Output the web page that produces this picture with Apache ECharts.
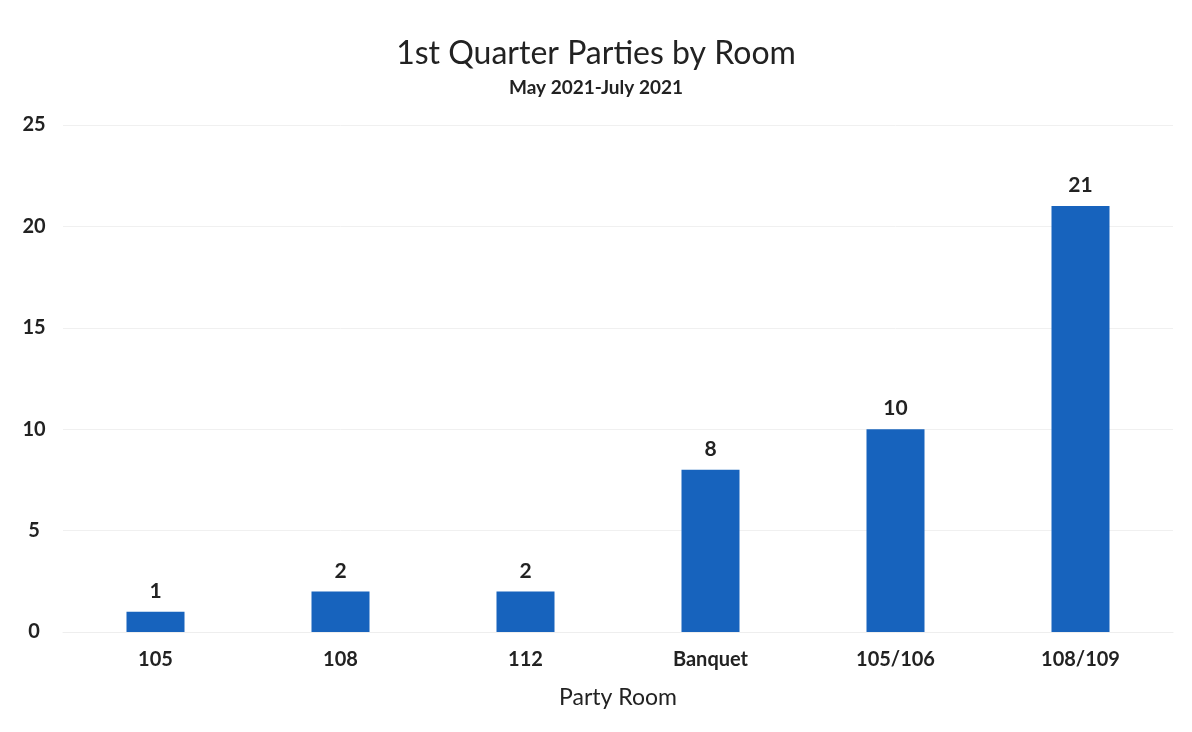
<!DOCTYPE html>
<html>
<head>
<meta charset="utf-8">
<script src="https://cdn.jsdelivr.net/npm/echarts@6/dist/echarts.min.js"></script>
<style>
  html, body { margin: 0; padding: 0; background: #fff; }
  #chart { width: 1192px; height: 732px; }
</style>
</head>
<body>
<div id="chart"></div>
<script>
// data
const rooms = ['105', '108', '112', 'Banquet', '105/106', '108/109'];
const parties = [1, 2, 2, 8, 10, 21];
const yTicks = [0, 5, 10, 15, 20, 25];

const font = 'Lato, "Open Sans", sans-serif';
const chart = echarts.init(document.getElementById('chart'));

chart.setOption({
  backgroundColor: '#fff',
  title: {
    text: '1st Quarter Parties by Room',
    subtext: 'May 2021-July 2021',
    left: 'center',
    top: 33,
    itemGap: 8,
    textStyle: { fontFamily: font, fontSize: 32, fontWeight: 'normal', color: '#222' },
    subtextStyle: { fontFamily: font, fontSize: 19, fontWeight: 'bold', color: '#222' }
  },
  grid: { left: 63, right: 19, top: 125, bottom: 100 },
  xAxis: {
    type: 'category',
    data: rooms,
    name: 'Party Room',
    nameLocation: 'middle',
    nameGap: 54,
    nameTextStyle: { fontFamily: font, fontSize: 23, color: '#222' },
    axisLine: { lineStyle: { color: '#eeeeee' } },
    axisTick: { show: false },
    axisLabel: { fontFamily: font, fontSize: 20, color: '#222', margin: 18, fontWeight: 'bold' }
  },
  yAxis: {
    type: 'value',
    min: yTicks[0],
    max: yTicks[yTicks.length - 1],
    interval: 5,
    axisLine: { show: false },
    axisTick: { show: false },
    splitLine: { lineStyle: { color: '#f0f0f0' } },
    axisLabel: { fontFamily: font, fontSize: 20, color: '#222', margin: 29, align: 'center', fontWeight: 'bold' }
  },
  series: [{
    type: 'bar',
    data: parties,
    barWidth: 58,
    itemStyle: { color: '#1763bd' },
    label: {
      show: true,
      position: 'top',
      distance: 10,
      fontFamily: font,
      fontSize: 21,
      fontWeight: 'bold',
      color: '#222'
    }
  }]
});
</script>
</body>
</html>
